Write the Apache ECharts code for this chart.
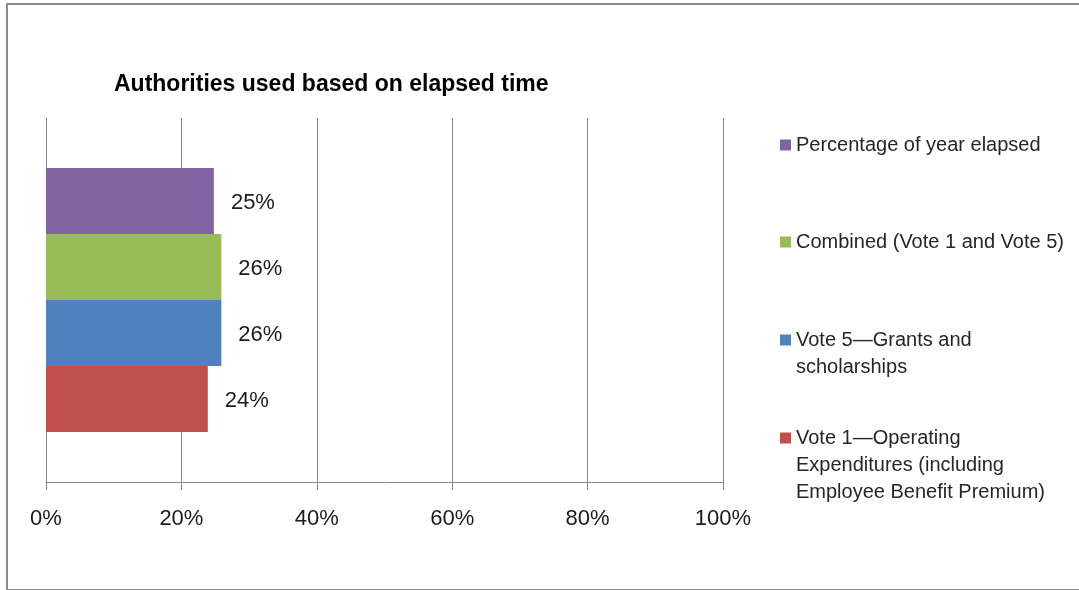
<!DOCTYPE html>
<html>
<head>
<meta charset="utf-8">
<script src="https://cdn.jsdelivr.net/npm/echarts@6/dist/echarts.min.js"></script>
<style>
  html, body { margin: 0; padding: 0; background: #fff; }
  #frame {
    position: absolute; left: 6px; top: 3px;
    width: 1080px; height: 584px;
    border: 2px solid #8c8c8c;
  }
  #chart { position: absolute; left: 0; top: 0; width: 1079px; height: 590px; }
</style>
</head>
<body>
<div id="frame"></div>
<div id="chart"></div>
<script>
// data (percent of authorities used)
const seriesNames = [
  'Percentage of year elapsed',
  'Combined (Vote 1 and Vote 5)',
  'Vote 5\u2014Grants and scholarships',
  'Vote 1\u2014Operating Expenditures (including Employee Benefit Premium)'
];
// how the legend wraps each name
const legendLines = [
  ['Percentage of year elapsed'],
  ['Combined (Vote 1 and Vote 5)'],
  ['Vote 5\u2014Grants and', 'scholarships'],
  ['Vote 1\u2014Operating', 'Expenditures (including', 'Employee Benefit Premium)']
];
const seriesValues = [24.8, 25.9, 25.9, 23.9];
const seriesColors = ['#8064a2', '#9bbb59', '#4f81bd', '#c0504d'];
const categories = [''];
const xTicks = [0, 20, 40, 60, 80, 100];

const font = 'Liberation Sans, Arial, sans-serif';
const lineH = 27;
const legendIconY = [145, 242, 340, 438];

const chart = echarts.init(document.getElementById('chart'));

// one legend block per entry so the spacing matches the original
const legends = seriesNames.map((name, i) => {
  const n = legendLines[i].length;
  return {
    data: [name],
    orient: 'vertical',
    left: 780,
    top: legendIconY[i] - (2 * n - 1) * lineH / 2,
    padding: 0,
    icon: 'rect',
    itemWidth: 11,
    itemHeight: 11,
    selectedMode: false,
    formatter: () => '\n'.repeat(n - 1) + legendLines[i].join('\n'),
    textStyle: { fontFamily: font, fontSize: 20, color: '#262626', lineHeight: lineH }
  };
});

chart.setOption({
  animation: false,
  title: {
    text: 'Authorities used based on elapsed time',
    left: 114,
    top: 73,
    padding: 0,
    textStyle: { fontFamily: font, fontSize: 23, fontWeight: 'bold', color: '#000' }
  },
  legend: legends,
  grid: { left: 46, right: 356, top: 118, bottom: 108 },
  xAxis: {
    type: 'value',
    min: xTicks[0],
    max: xTicks[xTicks.length - 1],
    interval: 20,
    axisLine: { show: true, lineStyle: { color: '#868686', width: 1 } },
    axisTick: { show: true, length: 8, lineStyle: { color: '#868686' } },
    axisLabel: { formatter: '{value}%', margin: 26, fontFamily: font, fontSize: 22, color: '#1a1a1a' },
    splitLine: { show: true, lineStyle: { color: '#868686', width: 1 } }
  },
  yAxis: {
    type: 'category',
    data: categories,
    axisLine: { show: true, lineStyle: { color: '#868686', width: 1 } },
    axisTick: { show: false },
    axisLabel: { show: false }
  },
  series: seriesNames.map((name, i) => ({
    name: name,
    type: 'bar',
    data: [seriesValues[i]],
    barGap: '0%',
    barCategoryGap: '27.5%',
    itemStyle: { color: seriesColors[i] },
    label: {
      show: true,
      position: 'right',
      distance: 17,
      offset: [0, 2],
      formatter: p => Math.round(p.value) + '%',
      fontFamily: font,
      fontSize: 22,
      color: '#1a1a1a'
    }
  }))
});
</script>
</body>
</html>
